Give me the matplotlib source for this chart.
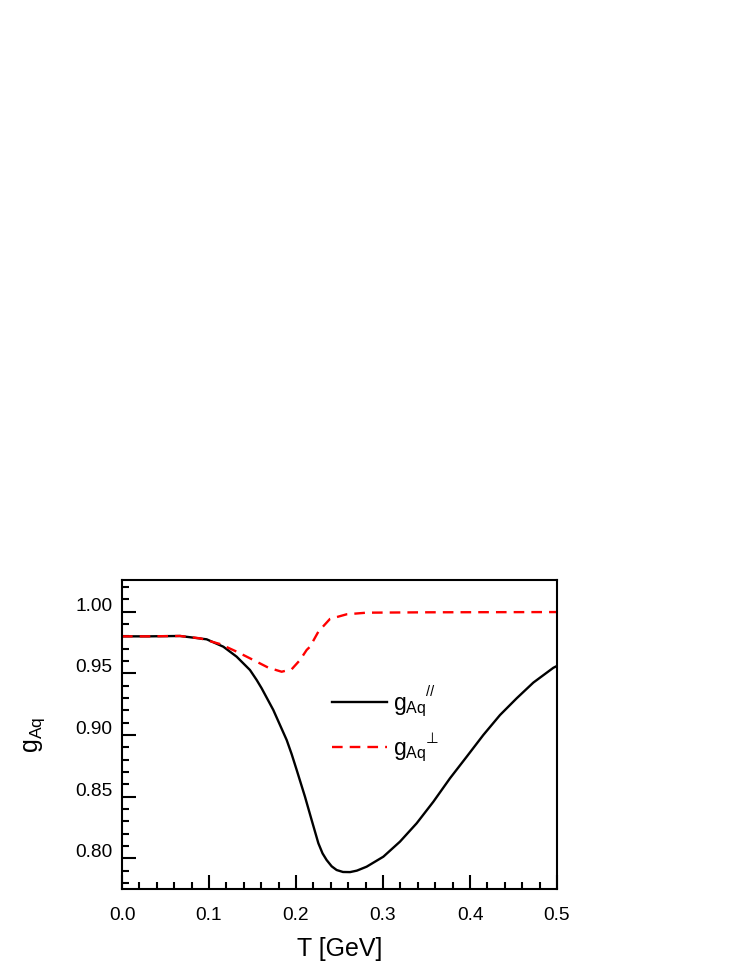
import matplotlib
matplotlib.use("Agg")
import matplotlib.pyplot as plt
from matplotlib.transforms import ScaledTranslation
from matplotlib.lines import Line2D

plt.rcParams['font.family'] = ['Liberation Sans', 'DejaVu Sans']
plt.rcParams['mathtext.fontset'] = 'custom'
plt.rcParams['mathtext.rm'] = 'Liberation Sans'
plt.rcParams['mathtext.it'] = 'Liberation Sans:italic'
plt.rcParams['mathtext.bf'] = 'Liberation Sans:bold'

# ---- data ----
T_par = [0.0, 0.03, 0.0667, 0.0973, 0.1165, 0.1318, 0.1471, 0.1548, 0.1605,
         0.1739, 0.1893, 0.1950, 0.2008, 0.2103, 0.218, 0.2257, 0.2305, 0.2352,
         0.241, 0.2467, 0.2540, 0.2621, 0.2700, 0.2812, 0.3004, 0.3195,
         0.3387, 0.3579, 0.377, 0.3962, 0.4153, 0.4345, 0.4537, 0.4728,
         0.4958, 0.5]
g_par = [0.980, 0.980, 0.9803, 0.9776, 0.9716, 0.9635, 0.9527, 0.9446, 0.9379,
         0.9203, 0.8959, 0.8845, 0.8716, 0.850, 0.831, 0.8122, 0.8040, 0.7986,
         0.7935, 0.7905, 0.7889, 0.7888, 0.7900, 0.7932, 0.8013, 0.8135,
         0.8284, 0.8459, 0.8649, 0.8824, 0.900, 0.9162, 0.9298, 0.9425,
         0.9545, 0.9560]

T_perp = [0.0, 0.03, 0.0667, 0.0897, 0.1126, 0.1318, 0.151, 0.1682, 0.1835,
          0.195, 0.2046, 0.2123, 0.2161, 0.2257, 0.239, 0.2583, 0.2812,
          0.35, 0.42, 0.5]
g_perp = [0.980, 0.980, 0.9803, 0.9784, 0.9738, 0.9676, 0.9608, 0.9546, 0.9513,
          0.9533, 0.9608, 0.969, 0.9716, 0.9838, 0.9941, 0.9979, 0.9992,
          0.9995, 0.9996, 0.9997]

x_ticks = [0.0, 0.1, 0.2, 0.3, 0.4, 0.5]
x_ticklabels = ['0.0', '0.1', '0.2', '0.3', '0.4', '0.5']
y_ticks = [0.80, 0.85, 0.90, 0.95, 1.00]
y_ticklabels = ['0.80', '0.85', '0.90', '0.95', '1.00']

fig = plt.figure(figsize=(7.47, 9.67), dpi=100)
ax = fig.add_axes([122/747, 78/967, 435/747, 309/967])

ax.plot(T_par, g_par, color='black', lw=1.7, solid_joinstyle='round')
ax.plot(T_perp, g_perp, color='red', lw=1.7, linestyle=(0, (4.5, 3)))

ax.set_xlim(0.0, 0.5)
ax.set_ylim(0.7751, 1.0257)

ax.set_xticks(x_ticks)
ax.set_xticklabels(x_ticklabels)
ax.set_yticks(y_ticks)
ax.set_yticklabels(y_ticklabels)
ax.set_xticks([i * 0.02 for i in range(26)], minor=True)
ax.set_yticks([0.78 + i * 0.01 for i in range(25)], minor=True)

ax.tick_params(which='both', direction='in', width=1.5, labelsize=13.8)
ax.tick_params(which='major', length=10)
ax.tick_params(which='minor', length=5)
ax.tick_params(axis='y', which='major', pad=7)
ax.tick_params(axis='x', which='major', pad=13)
for s in ax.spines.values():
    s.set_linewidth(1.5)

# y tick labels sit slightly above their ticks in the reference
off = ScaledTranslation(0, 7.5/100, fig.dpi_scale_trans)
for lab in ax.get_yticklabels():
    lab.set_transform(lab.get_transform() + off)

ax.set_xlabel('T [GeV]', fontsize=18, labelpad=9)
ax.set_ylabel(r'$\mathregular{g_{Aq}}$', fontsize=18, labelpad=20)

handles = [Line2D([], [], color='black', lw=1.7),
           Line2D([], [], color='red', lw=1.7, linestyle=(0, (4.5, 3)))]
labels = [r'$\mathregular{g_{Aq}}$', r'$\mathregular{g_{Aq}}$']
ax.legend(handles, labels, loc='upper left', bbox_to_anchor=(0.4828, 0.636),
          frameon=False, fontsize=16.5, handlelength=2.4, handletextpad=0.25,
          borderpad=0, borderaxespad=0, labelspacing=0.78)
# superscripts of the legend labels
ax.text(0.7085, 0.6375, '//', transform=ax.transAxes, fontsize=10.5,
        ha='center', va='center')
ax.text(0.7125, 0.487, '\u22a5', transform=ax.transAxes, fontsize=10.5,
        ha='center', va='center', family=['DejaVu Sans'])

fig.savefig('out.png', dpi=100)
